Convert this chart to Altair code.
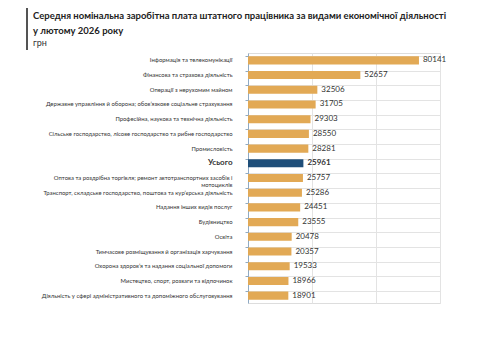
import altair as alt
import pandas as pd

categories = [
    "Інформація та телекомунікації",
    "Фінансова та страхова діяльність",
    "Операції з нерухомим майном",
    "Державне управління й оборона; обов’язкове соціальне страхування",
    "Професійна, наукова та технічна діяльність",
    "Сільське господарство, лісове господарство та рибне господарство",
    "Промисловість",
    "Усього",
    "Оптова та роздрібна торгівля; ремонт автотранспортних засобів і мотоциклів",
    "Транспорт, складське господарство, поштова та кур’єрська діяльність",
    "Надання інших видів послуг",
    "Будівництво",
    "Освіта",
    "Тимчасове розміщування й організація харчування",
    "Охорона здоров’я та надання соціальної допомоги",
    "Мистецтво, спорт, розваги та відпочинок",
    "Діяльність у сфері адміністративного та допоміжного обслуговування",
]
values = [80141, 52657, 32506, 31705, 29303, 28550, 28281, 25961, 25757, 25286,
          24451, 23555, 20478, 20357, 19533, 18966, 18901]
total_label = "Усього"

df = pd.DataFrame({"cat": categories, "value": values})
df["is_total"] = df["cat"] == total_label

label_expr = (
    "datum.value == 'Оптова та роздрібна торгівля; ремонт автотранспортних засобів і мотоциклів'"
    " ? ['Оптова та роздрібна торгівля; ремонт автотранспортних засобів і', 'мотоциклів']"
    " : datum.value"
)

FONT = "Lato"

y_enc = alt.Y(
    "cat:N", sort=categories, title=None,
    scale=alt.Scale(paddingInner=0.45, paddingOuter=0.225),
    axis=alt.Axis(
        labelExpr=label_expr,
        labelFont=FONT, labelFontSize=alt.ExprRef("datum.value == 'Усього' ? 8 : 5.9"),
        labelColor="#333333",
        labelFontWeight=alt.ExprRef("datum.value == 'Усього' ? 'bold' : 'normal'"),
        labelLimit=260, labelPadding=13, labelLineHeight=7,
        tickSize=3, tickColor="#8faac4", domainColor="#8faac4",
        grid=True, gridColor="#e3e3e3", bandPosition=0,
    ),
)

x_enc = alt.X(
    "value:Q", title=None,
    scale=alt.Scale(domain=[0, 90000], nice=False),
    axis=alt.Axis(values=[0, 15000, 30000, 45000, 60000, 75000, 90000],
                  labels=False, ticks=False, domain=False,
                  grid=True, gridColor="#e3e3e3"),
)

bars = alt.Chart(df).mark_bar().encode(
    x=x_enc, y=y_enc,
    color=alt.Color("is_total:N", scale=alt.Scale(domain=[False, True], range=["#E2A955", "#1F4E79"]), legend=None),
)

text_normal = alt.Chart(df).transform_filter("!datum.is_total").mark_text(
    align="left", dx=4, font=FONT, fontSize=8, color="#333333"
).encode(x="value:Q", y=alt.Y("cat:N", sort=categories), text="value:Q")

text_bold = alt.Chart(df).transform_filter("datum.is_total").mark_text(
    align="left", dx=4, font=FONT, fontSize=8, fontWeight="bold", color="#333333"
).encode(x="value:Q", y=alt.Y("cat:N", sort=categories), text="value:Q")

bar_left = alt.Chart(df).mark_rule(color="#555555", strokeWidth=1.5).encode(
    x=alt.value(-221), y=alt.value(-45), y2=alt.value(-3)
)

chart = alt.layer(bars, text_normal, text_bold, bar_left).properties(
    width=192, height=250,
    autosize=alt.AutoSizeParams(type="none"),
    padding={"left": 248, "top": 53, "right": 40, "bottom": 47},
    title=alt.Title(
        text=["Середня номінальна заробітна плата штатного працівника за видами економічної діяльності",
              "у лютому 2026 року"],
        subtitle="грн",
        anchor="start", frame="group", dx=-215, offset=6, dy=47,
        font=FONT, fontSize=9.5, fontWeight="bold", color="#222222", lineHeight=14.5,
        subtitleFont=FONT, subtitleFontSize=9, subtitleColor="#333333", subtitlePadding=4,
    ),
).configure_view(stroke="#e3e3e3").configure(background="white")

chart.save("out.html", embed_options={"renderer": "svg", "actions": False})
